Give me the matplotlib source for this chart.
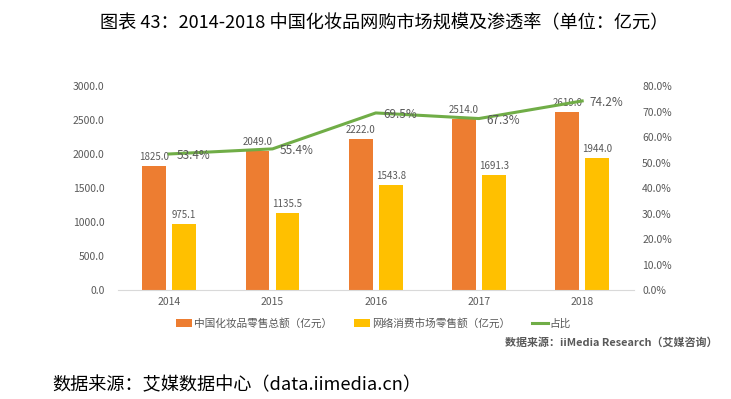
import matplotlib
matplotlib.use('Agg')
import matplotlib.pyplot as plt
from matplotlib.ticker import FuncFormatter
import numpy as np

plt.rcParams['font.family'] = ['Noto Sans CJK SC', 'DejaVu Sans']

# data
years = ['2014', '2015', '2016', '2017', '2018']
total_sales = [1825.0, 2049.0, 2222.0, 2514.0, 2619.0]    # 中国化妆品零售总额（亿元）
online_sales = [975.1, 1135.5, 1543.8, 1691.3, 1944.0]    # 网络消费市场零售额（亿元）
share = [53.4, 55.4, 69.5, 67.3, 74.2]                    # 占比 (%)

ORANGE = '#ED7D31'
YELLOW = '#FFC000'
GREEN = '#70AD47'
GREY = '#595959'

fig = plt.figure(figsize=(7.31, 3.99), dpi=100)
ax = fig.add_axes([0.161, 0.273, 0.706, 0.511])
ax2 = ax.twinx()

x = np.arange(len(years))
w = 0.23
off = 0.145
b1 = ax.bar(x - off, total_sales, w, color=ORANGE, label='中国化妆品零售总额（亿元）', zorder=2)
b2 = ax.bar(x + off, online_sales, w, color=YELLOW, label='网络消费市场零售额（亿元）', zorder=2)

for bar, v in zip(b1, total_sales):
    ax.text(bar.get_x() + bar.get_width() / 2, v + 60, f'{v:.1f}',
            ha='center', va='bottom', fontsize=7, color=GREY)
for bar, v in zip(b2, online_sales):
    ax.text(bar.get_x() + bar.get_width() / 2, v + 60, f'{v:.1f}',
            ha='center', va='bottom', fontsize=7, color=GREY)

ax.set_xlim(-0.5, len(years) - 0.5)
ax.set_ylim(0, 3000)
ax.set_yticks(np.arange(0, 3001, 500))
ax.yaxis.set_major_formatter(FuncFormatter(lambda v, p: f'{v:.1f}'))
ax.set_xticks(x)
ax.set_xticklabels(years)

ln, = ax2.plot(x, share, color=GREEN, lw=2.2, label='占比', zorder=3)
for xi, v in zip(x, share):
    ax2.text(xi + 0.07, v - 0.6, f'{v:.1f}%', ha='left', va='center',
             fontsize=8.5, color=GREY)
ax2.set_ylim(0, 80)
ax2.set_yticks(np.arange(0, 81, 10))
ax2.yaxis.set_major_formatter(FuncFormatter(lambda v, p: f'{v:.1f}%'))

for a in (ax, ax2):
    for s in a.spines.values():
        s.set_visible(False)
    a.tick_params(length=0, labelsize=7.5, labelcolor=GREY)
ax.spines['bottom'].set_visible(True)
ax.spines['bottom'].set_color('#D9D9D9')
ax.tick_params(axis='y', pad=9.5)
ax.tick_params(axis='x', pad=5)
ax2.tick_params(axis='y', pad=6)
ax2.set_zorder(ax.get_zorder() + 1)

fig.legend(handles=[b1, b2, ln], loc='center', bbox_to_anchor=(0.511, 0.19),
           ncol=3, frameon=False, fontsize=7.7, handlelength=1.5,
           handleheight=0.7, columnspacing=2.0, handletextpad=0.2,
           labelcolor=GREY)

fig.text(0.981, 0.143, '数据来源：iiMedia Research（艾媒咨询）', ha='right', va='center',
         fontsize=7.9, color=GREY, fontweight='bold')

fig.text(0.525, 0.942, '图表 43：2014-2018 中国化妆品网购市场规模及渗透率（单位：亿元）',
         ha='center', va='center', fontsize=13.1, color='black')
fig.text(0.072, 0.035, '数据来源：艾媒数据中心（data.iimedia.cn）',
         ha='left', va='center', fontsize=13.1, color='black')

fig.savefig('out.png', dpi=100)
